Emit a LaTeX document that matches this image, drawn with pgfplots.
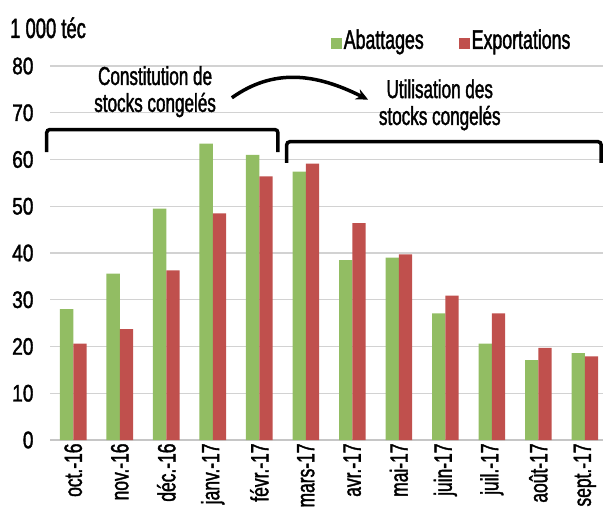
\documentclass[border=0pt]{standalone}
\usepackage{fontspec}
\setmainfont{Liberation Sans}[FakeStretch=0.66, FakeBold=1.5]
\newfontfamily\tickfont{Liberation Sans}[FakeStretch=0.80, FakeBold=1.5]
\newfontfamily\xfont{Liberation Sans}[FakeStretch=0.70, FakeBold=1.5]
\usepackage{pgfplots}
\pgfplotsset{compat=1.18}
\usetikzlibrary{arrows.meta}
\definecolor{vert}{RGB}{146,189,99}
\definecolor{rouge}{RGB}{192,80,77}
\pgfplotsset{sqleg/.style={legend image code/.code={\fill[##1] (0bp,-9bp) rectangle (11bp,2bp);}}}
\begin{document}
\begin{tikzpicture}
\path[use as bounding box] (0,0) rectangle (604bp,508bp);
\node[anchor=base west, font=\fontsize{28}{30}\selectfont, inner sep=0] at (10bp,470bp) {1 000 téc};
\begin{axis}[
 at={(50bp,68bp)}, anchor=south west,
 scale only axis, width=553bp, height=374bp,
 xmin=-0.5, xmax=11.39, ymin=0, ymax=80,
 enlarge x limits=false,
 ybar=0pt, bar width=13.3bp,
 ytick={0,10,...,80},
 xtick={0,...,11},
 xticklabels={oct.-16, nov.-16, déc.-16, janv.-17, févr.-17, mars-17, avr.-17, mai-17, juin-17, juil.-17, août-17, sept.-17},
 major tick length=0,
 ymajorgrids, grid style={draw=gray!35, line width=1.3bp},
 axis x line*=bottom, axis y line*=left,
 y axis line style={draw=none},
 x axis line style={draw=gray!45, line width=1.5bp},
 /pgf/number format/assume math mode=true,
 yticklabel style={font=\tickfont\fontsize{24}{26}\selectfont, xshift=-13bp},
 xticklabel style={font=\xfont\fontsize{25}{27}\selectfont, rotate=90, anchor=east},
 clip=false,
 legend columns=2,
 legend style={draw=none, fill=none, at={(rel axis cs:0.502,1.07)}, anchor=west,
   font=\fontsize{27}{29}\selectfont,
   /tikz/every even column/.append style={column sep=33bp}},
]
\addplot[fill=vert, draw=none, sqleg] coordinates {
 (0,28.0) (1,35.6) (2,49.5) (3,63.4) (4,61.0) (5,57.4)
 (6,38.5) (7,39.0) (8,27.1) (9,20.6) (10,17.1) (11,18.6)};
\addlegendentry{Abattages}
\addplot[fill=rouge, draw=none, sqleg] coordinates {
 (0,20.6) (1,23.7) (2,36.3) (3,48.5) (4,56.4) (5,59.1)
 (6,46.4) (7,39.7) (8,30.9) (9,27.1) (10,19.7) (11,17.9)};
\addlegendentry{Exportations}
\draw[line width=3.5bp, rounded corners=3bp] (axis cs:-0.57,61.6) -- (axis cs:-0.57,66.4) -- (axis cs:4.40,66.4) -- (axis cs:4.40,61.6);
\draw[line width=3.5bp, rounded corners=3bp] (axis cs:4.59,59.3) -- (axis cs:4.59,63.8) -- (axis cs:11.35,63.8) -- (axis cs:11.35,59.3);
\node[align=center, font=\fontsize{26}{27}\selectfont] at (axis cs:1.76,74.5) {Constitution de\\stocks congelés};
\node[align=center, font=\fontsize{26}{27}\selectfont] at (axis cs:7.88,71.7) {Utilisation des\\stocks congelés};
\draw[line width=3.5bp, -{Stealth[length=12bp,width=11bp]}] (axis cs:3.41,73.2) .. controls (axis cs:4.3,79.5) and (axis cs:5.2,78.5) .. (axis cs:6.34,72.8);
\end{axis}
\end{tikzpicture}
\end{document}
